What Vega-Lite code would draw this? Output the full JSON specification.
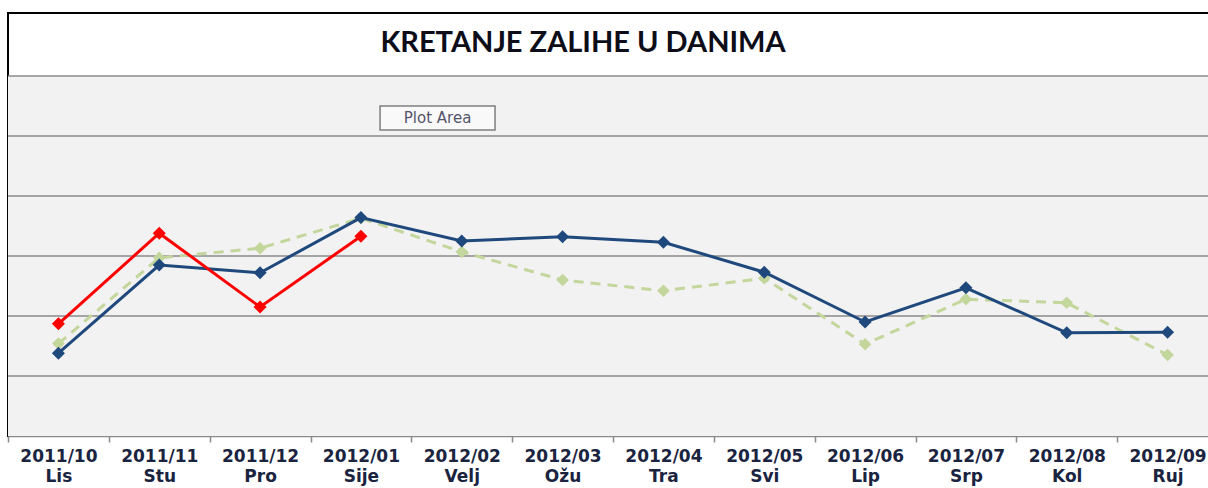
{
  "$schema": "https://vega.github.io/schema/vega-lite/v6.json",
  "width": 1210,
  "height": 423,
  "autosize": {"type": "none"},
  "padding": {"left": 8, "top": 13, "right": 0, "bottom": 52},
  "background": "white",
  "config": {"view": {"stroke": "#000000", "strokeWidth": 2}},
  "title": {
    "text": "KRETANJE ZALIHE U DANIMA",
    "font": "Lato",
    "fontSize": 29,
    "fontWeight": "bold",
    "color": "#0d0d1a",
    "anchor": "middle",
    "baseline": "alphabetic",
    "offset": -68,
    "dx": -30
  },
  "datasets": {
    "series": [
      {"m": "2011/10|Lis", "s": "Plan", "v": 15.4},
      {"m": "2011/11|Stu", "s": "Plan", "v": 29.7},
      {"m": "2011/12|Pro", "s": "Plan", "v": 31.3},
      {"m": "2012/01|Sije", "s": "Plan", "v": 36.3},
      {"m": "2012/02|Velj", "s": "Plan", "v": 30.7},
      {"m": "2012/03|Ožu", "s": "Plan", "v": 26.0},
      {"m": "2012/04|Tra", "s": "Plan", "v": 24.2},
      {"m": "2012/05|Svi", "s": "Plan", "v": 26.3},
      {"m": "2012/06|Lip", "s": "Plan", "v": 15.3},
      {"m": "2012/07|Srp", "s": "Plan", "v": 22.8},
      {"m": "2012/08|Kol", "s": "Plan", "v": 22.2},
      {"m": "2012/09|Ruj", "s": "Plan", "v": 13.5},
      {"m": "2011/10|Lis", "s": "Ostvarenje", "v": 13.8},
      {"m": "2011/11|Stu", "s": "Ostvarenje", "v": 28.5},
      {"m": "2011/12|Pro", "s": "Ostvarenje", "v": 27.2},
      {"m": "2012/01|Sije", "s": "Ostvarenje", "v": 36.4},
      {"m": "2012/02|Velj", "s": "Ostvarenje", "v": 32.5},
      {"m": "2012/03|Ožu", "s": "Ostvarenje", "v": 33.2},
      {"m": "2012/04|Tra", "s": "Ostvarenje", "v": 32.3},
      {"m": "2012/05|Svi", "s": "Ostvarenje", "v": 27.3},
      {"m": "2012/06|Lip", "s": "Ostvarenje", "v": 19.0},
      {"m": "2012/07|Srp", "s": "Ostvarenje", "v": 24.7},
      {"m": "2012/08|Kol", "s": "Ostvarenje", "v": 17.2},
      {"m": "2012/09|Ruj", "s": "Ostvarenje", "v": 17.3},
      {"m": "2011/10|Lis", "s": "Prethodno", "v": 18.7},
      {"m": "2011/11|Stu", "s": "Prethodno", "v": 33.8},
      {"m": "2011/12|Pro", "s": "Prethodno", "v": 21.5},
      {"m": "2012/01|Sije", "s": "Prethodno", "v": 33.3}
    ],
    "note": [{"m": "2012/02|Velj", "v": 53, "t": "Plot Area"}],
    "band": [{"lo": 0, "hi": 60}],
    "grid": [{"g": 10}, {"g": 20}, {"g": 30}, {"g": 40}, {"g": 50}, {"g": 60}]
  },
  "layer": [
    {
      "data": {"name": "band"},
      "mark": {"type": "rect", "fill": "#f2f2f2"},
      "encoding": {
        "y": {"field": "lo", "type": "quantitative", "scale": {"domain": [0, 70.5], "nice": false, "zero": true}, "axis": null},
        "y2": {"field": "hi"}
      }
    },
    {
      "data": {"name": "grid"},
      "mark": {"type": "rule", "color": "#8a8a8a", "strokeWidth": 1.5},
      "encoding": {
        "y": {"field": "g", "type": "quantitative", "axis": null}
      }
    },
    {
      "data": {"name": "series"},
      "transform": [{"filter": "datum.s === 'Plan'"}],
      "mark": {"type": "line", "color": "#c3d69b", "strokeWidth": 3, "strokeDash": [10, 7],
               "point": {"shape": "diamond", "size": 160, "filled": true, "color": "#c3d69b", "opacity": 1}},
      "encoding": {
        "x": {"field": "m", "type": "ordinal", "bandPosition": 0.5,
              "scale": {"type": "band", "paddingInner": 0, "paddingOuter": 0,
                        "domain": ["2011/10|Lis", "2011/11|Stu", "2011/12|Pro", "2012/01|Sije", "2012/02|Velj", "2012/03|Ožu", "2012/04|Tra", "2012/05|Svi", "2012/06|Lip", "2012/07|Srp", "2012/08|Kol", "2012/09|Ruj"]},
              "axis": {"title": null, "labelExpr": "datum.value ? split(datum.value, '|') : ''", "labelAngle": 0, "labelFont": "DejaVu Sans", "labelFontWeight": "bold", "labelFontSize": 17, "labelLineHeight": 20, "labelColor": "#1a2440", "labelPadding": 6, "tickSize": 6, "tickColor": "#8a8a8a", "tickWidth": 1.5, "tickBand": "extent", "domainColor": "#8a8a8a", "domainWidth": 1.5, "grid": false, "labelOverlap": false}},
        "y": {"field": "v", "type": "quantitative", "axis": null}
      }
    },
    {
      "data": {"name": "series"},
      "transform": [{"filter": "datum.s === 'Ostvarenje'"}],
      "mark": {"type": "line", "color": "#1f497d", "strokeWidth": 3,
               "point": {"shape": "diamond", "size": 170, "filled": true, "color": "#1f497d", "opacity": 1}},
      "encoding": {
        "x": {"field": "m", "type": "ordinal", "bandPosition": 0.5},
        "y": {"field": "v", "type": "quantitative", "axis": null}
      }
    },
    {
      "data": {"name": "series"},
      "transform": [{"filter": "datum.s === 'Prethodno'"}],
      "mark": {"type": "line", "color": "#ff0000", "strokeWidth": 3,
               "point": {"shape": "diamond", "size": 170, "filled": true, "color": "#ff0000", "opacity": 1}},
      "encoding": {
        "x": {"field": "m", "type": "ordinal", "bandPosition": 0.5},
        "y": {"field": "v", "type": "quantitative", "axis": null}
      }
    },
    {
      "data": {"name": "note"},
      "mark": {"type": "point", "shape": "M-1,-0.209L1,-0.209L1,0.209L-1,0.209Z", "size": 13225, "filled": true, "fill": "#f9f9f9", "stroke": "#7f7f7f", "strokeWidth": 1.5, "opacity": 1},
      "encoding": {
        "x": {"field": "m", "type": "ordinal", "bandPosition": 0.26},
        "y": {"field": "v", "type": "quantitative", "axis": null}
      }
    },
    {
      "data": {"name": "note"},
      "mark": {"type": "text", "font": "DejaVu Sans", "fontSize": 15, "color": "#55556a", "align": "center", "baseline": "middle"},
      "encoding": {
        "x": {"field": "m", "type": "ordinal", "bandPosition": 0.26},
        "y": {"field": "v", "type": "quantitative", "axis": null},
        "text": {"field": "t"}
      }
    }
  ]
}
